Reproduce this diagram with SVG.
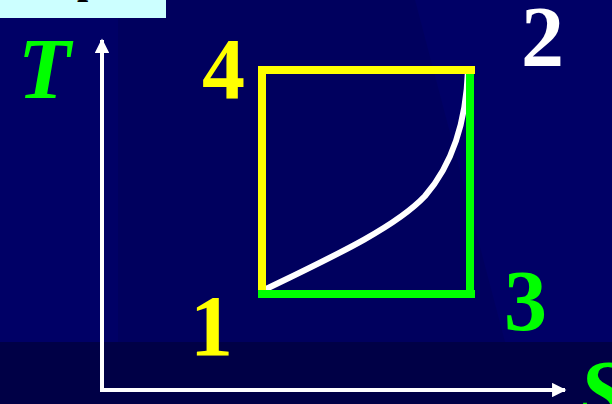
<svg xmlns="http://www.w3.org/2000/svg" width="612" height="404" viewBox="0 0 612 404">
  <defs>
    <style>
      .lbl { font-family: "Liberation Serif", "Times New Roman", serif; font-weight: bold; font-size: 86px; }
      .it { font-style: italic; }
      .axis { stroke: #ffffff; stroke-width: 4; fill: none; }
      .yl { stroke: #ffff00; stroke-width: 8; fill: none; }
      .gl { stroke: #00ff00; stroke-width: 8; fill: none; }
    </style>
    <marker id="arr" viewBox="0 0 10 10" refX="9" refY="5" markerWidth="4.2" markerHeight="3.6" orient="auto" markerUnits="strokeWidth">
      <path d="M0,0 L10,5 L0,10 Z" fill="#ffffff"/>
    </marker>
  </defs>

  <!-- background -->
  <rect x="0" y="0" width="612" height="404" fill="#000066"/>
  <polygon points="118,0 415,0 505,342 118,342" fill="#00005e"/>
  <rect x="0" y="342" width="612" height="62" fill="#000046"/>

  <!-- title box (cut off) -->
  <g id="title">
    <rect x="0" y="0" width="166" height="18" fill="#ccffff"/>
    <text x="77" y="-7" class="lbl" font-size="40" fill="#000000" style="font-size:40px">p</text>
  </g>

  <!-- connectors / curves -->
  <g id="connectors">
    <line class="axis" x1="102" y1="390" x2="102" y2="40" marker-end="url(#arr)"/>
    <line class="axis" x1="100" y1="390" x2="565" y2="390" marker-end="url(#arr)"/>
    <path d="M262,291 C330,258 395,228 425,196 C452,165 466,125 468,70" stroke="#ffffff" stroke-width="6" fill="none"/>
    <line class="yl" x1="262" y1="66" x2="262" y2="294"/>
    <line class="yl" x1="258" y1="70" x2="475" y2="70"/>
    <line class="gl" x1="470" y1="74" x2="470" y2="298"/>
    <line class="gl" x1="258" y1="294" x2="475" y2="294"/>
  </g>

  <g id="label-T"><text class="lbl it" x="18" y="98" fill="#00ff00">T</text></g>
  <g id="label-S"><text class="lbl it" x="579" y="420" fill="#00ff00">S</text></g>
  <g id="node-1"><text class="lbl" x="190" y="355" fill="#ffff00">1</text></g>
  <g id="node-2"><text class="lbl" x="521" y="66" fill="#ffffff">2</text></g>
  <g id="node-3"><text class="lbl" x="504" y="330" fill="#00ff00">3</text></g>
  <g id="node-4"><text class="lbl" x="202" y="98" fill="#ffff00">4</text></g>
</svg>
